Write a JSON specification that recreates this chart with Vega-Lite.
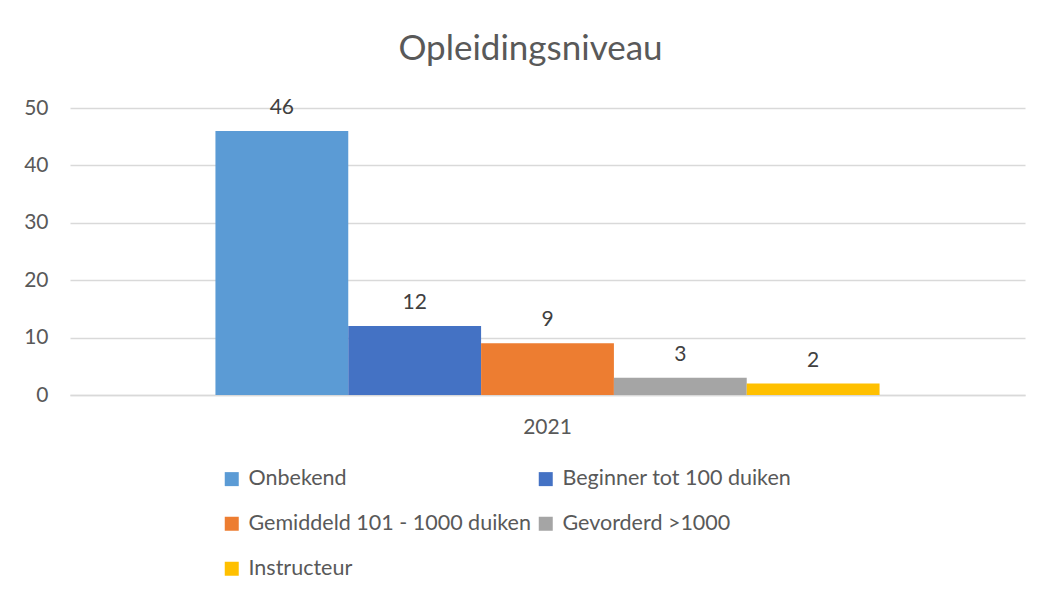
{
  "$schema": "https://vega.github.io/schema/vega-lite/v6.json",
  "autosize": "none",
  "width": 955,
  "height": 287,
  "padding": {"left": 70, "top": 108, "right": 20, "bottom": 203},
  "background": "white",
  "title": {
    "text": "Opleidingsniveau",
    "font": "Lato",
    "fontSize": 35,
    "fontWeight": "normal",
    "color": "#595959",
    "anchor": "middle",
    "frame": "group",
    "baseline": "bottom",
    "offset": -5,
    "dx": -17
  },
  "data": {
    "values": [
      {"jaar": "2021", "niveau": "Onbekend", "aantal": 46},
      {"jaar": "2021", "niveau": "Beginner tot 100 duiken", "aantal": 12},
      {"jaar": "2021", "niveau": "Gemiddeld 101 - 1000 duiken", "aantal": 9},
      {"jaar": "2021", "niveau": "Gevorderd >1000", "aantal": 3},
      {"jaar": "2021", "niveau": "Instructeur", "aantal": 2}
    ]
  },
  "encoding": {
    "x": {
      "field": "jaar",
      "type": "nominal",
      "scale": {"paddingOuter": 0.219, "paddingInner": 0},
      "axis": {
        "title": null,
        "labelAngle": 0,
        "ticks": false,
        "labelPadding": 21,
        "labelFont": "Lato",
        "labelFontSize": 21,
        "labelColor": "#595959",
        "domainColor": "#d9d9d9",
        "domainWidth": 1.5
      }
    },
    "xOffset": {
      "field": "niveau",
      "type": "nominal",
      "sort": ["Onbekend", "Beginner tot 100 duiken", "Gemiddeld 101 - 1000 duiken", "Gevorderd >1000", "Instructeur"],
      "scale": {"paddingInner": 0, "paddingOuter": 0}
    },
    "y": {
      "field": "aantal",
      "type": "quantitative",
      "scale": {"domain": [0, 50]},
      "axis": {
        "title": null,
        "values": [0, 10, 20, 30, 40, 50],
        "domain": false,
        "ticks": false,
        "labelPadding": 22,
        "labelFont": "Lato",
        "labelFontSize": 21,
        "labelColor": "#595959",
        "gridColor": "#d9d9d9",
        "gridWidth": 1.5
      }
    }
  },
  "layer": [
    {
      "mark": {"type": "bar"},
      "encoding": {
        "color": {
          "field": "niveau",
          "type": "nominal",
          "sort": ["Onbekend", "Beginner tot 100 duiken", "Gemiddeld 101 - 1000 duiken", "Gevorderd >1000", "Instructeur"],
          "scale": {
            "domain": ["Onbekend", "Beginner tot 100 duiken", "Gemiddeld 101 - 1000 duiken", "Gevorderd >1000", "Instructeur"],
            "range": ["#5B9BD5", "#4472C4", "#ED7D31", "#A5A5A5", "#FFC000"]
          },
          "legend": {
            "title": null,
            "orient": "none",
            "legendX": 151,
            "legendY": 360,
            "direction": "horizontal",
            "columns": 2,
            "columnPadding": 4,
            "rowPadding": 22,
            "padding": 0,
            "symbolType": "square",
            "symbolSize": 196,
            "symbolStrokeWidth": 0,
            "labelFont": "Lato",
            "labelFontSize": 21.5,
            "labelColor": "#595959",
            "labelOffset": 6,
            "labelLimit": 400
          }
        }
      }
    },
    {
      "mark": {
        "type": "text",
        "baseline": "bottom",
        "dy": -13,
        "font": "Lato",
        "fontSize": 21,
        "color": "#404040"
      },
      "encoding": {
        "text": {"field": "aantal", "type": "quantitative"}
      }
    }
  ],
  "config": {
    "view": {"stroke": null}
  }
}
